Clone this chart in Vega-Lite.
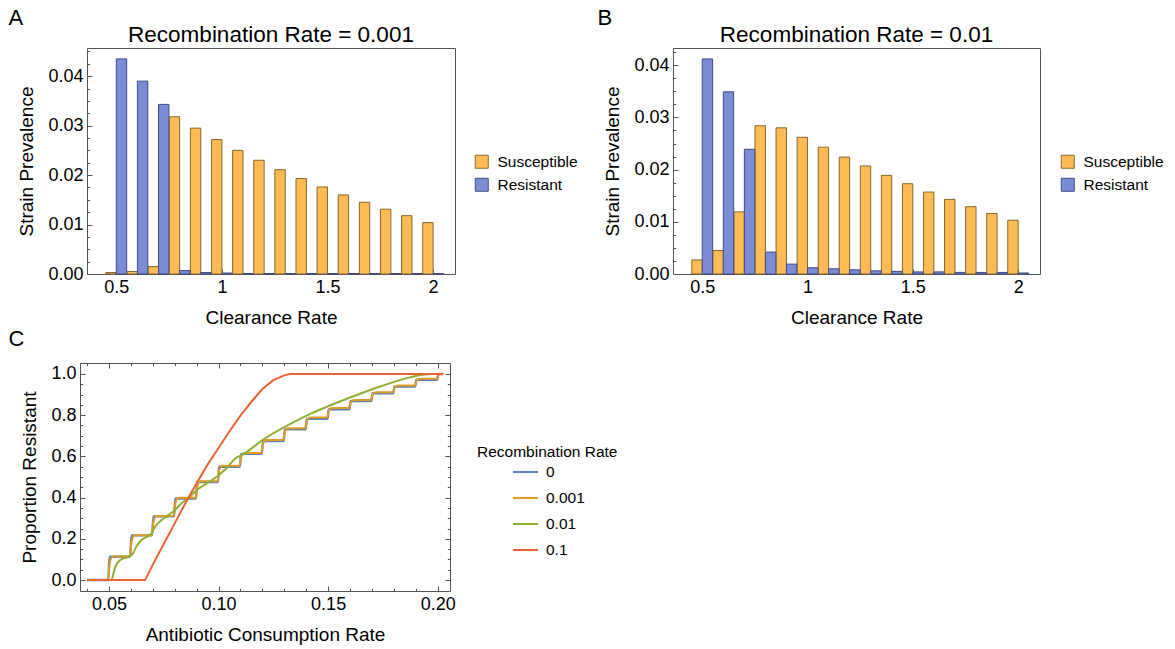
{
  "$schema": "https://vega.github.io/schema/vega-lite/v6.json",
  "padding": {"left": 5, "top": 7, "right": 2, "bottom": 0},
  "background": "white",
  "config": {
    "font": "Liberation Sans",
    "view": {"stroke": "#555555", "strokeWidth": 1},
    "axis": {"domain": false, "grid": false, "labelFontSize": 18, "labelColor": "black", "titleFontSize": 19, "titleFontWeight": "normal", "titleColor": "black", "tickColor": "#555555", "tickWidth": 1, "labelPadding": 9},
    "axisX": {"titlePadding": 12.5},
    "axisY": {"titlePadding": 11},
    "title": {"fontWeight": "normal", "color": "black"},
    "legend": {"labelFontSize": 15.5, "labelColor": "black", "titleFontSize": 15.5, "titleFontWeight": "normal", "titleColor": "black"}
  },
  "resolve": {"scale": {"color": "independent", "stroke": "independent"}, "legend": {"color": "independent", "stroke": "independent"}},
  "datasets": {
    "barsA": [
      {"rate": 0.5, "strain": "Susceptible", "prev": 0.0003},
      {"rate": 0.6, "strain": "Susceptible", "prev": 0.0005},
      {"rate": 0.7, "strain": "Susceptible", "prev": 0.0015},
      {"rate": 0.8, "strain": "Susceptible", "prev": 0.0318},
      {"rate": 0.9, "strain": "Susceptible", "prev": 0.0295},
      {"rate": 1.0, "strain": "Susceptible", "prev": 0.0272},
      {"rate": 1.1, "strain": "Susceptible", "prev": 0.0250},
      {"rate": 1.2, "strain": "Susceptible", "prev": 0.0230},
      {"rate": 1.3, "strain": "Susceptible", "prev": 0.0211},
      {"rate": 1.4, "strain": "Susceptible", "prev": 0.0193},
      {"rate": 1.5, "strain": "Susceptible", "prev": 0.0176},
      {"rate": 1.6, "strain": "Susceptible", "prev": 0.0160},
      {"rate": 1.7, "strain": "Susceptible", "prev": 0.0145},
      {"rate": 1.8, "strain": "Susceptible", "prev": 0.0131},
      {"rate": 1.9, "strain": "Susceptible", "prev": 0.0118},
      {"rate": 2.0, "strain": "Susceptible", "prev": 0.0104},
      {"rate": 0.5, "strain": "Resistant", "prev": 0.0435},
      {"rate": 0.6, "strain": "Resistant", "prev": 0.0390},
      {"rate": 0.7, "strain": "Resistant", "prev": 0.0343},
      {"rate": 0.8, "strain": "Resistant", "prev": 0.0007},
      {"rate": 0.9, "strain": "Resistant", "prev": 0.0003},
      {"rate": 1.0, "strain": "Resistant", "prev": 0.0002},
      {"rate": 1.1, "strain": "Resistant", "prev": 0.0001},
      {"rate": 1.2, "strain": "Resistant", "prev": 0.0001},
      {"rate": 1.3, "strain": "Resistant", "prev": 0.0001},
      {"rate": 1.4, "strain": "Resistant", "prev": 0.0001},
      {"rate": 1.5, "strain": "Resistant", "prev": 0.0001},
      {"rate": 1.6, "strain": "Resistant", "prev": 0.0001},
      {"rate": 1.7, "strain": "Resistant", "prev": 0.0001},
      {"rate": 1.8, "strain": "Resistant", "prev": 0.0001},
      {"rate": 1.9, "strain": "Resistant", "prev": 0.0001},
      {"rate": 2.0, "strain": "Resistant", "prev": 0.0001}
    ],
    "barsB": [
      {"rate": 0.5, "strain": "Susceptible", "prev": 0.0027},
      {"rate": 0.6, "strain": "Susceptible", "prev": 0.0045},
      {"rate": 0.7, "strain": "Susceptible", "prev": 0.0119},
      {"rate": 0.8, "strain": "Susceptible", "prev": 0.0284},
      {"rate": 0.9, "strain": "Susceptible", "prev": 0.0280},
      {"rate": 1.0, "strain": "Susceptible", "prev": 0.0262},
      {"rate": 1.1, "strain": "Susceptible", "prev": 0.0243},
      {"rate": 1.2, "strain": "Susceptible", "prev": 0.0224},
      {"rate": 1.3, "strain": "Susceptible", "prev": 0.0207},
      {"rate": 1.4, "strain": "Susceptible", "prev": 0.0189},
      {"rate": 1.5, "strain": "Susceptible", "prev": 0.0173},
      {"rate": 1.6, "strain": "Susceptible", "prev": 0.0157},
      {"rate": 1.7, "strain": "Susceptible", "prev": 0.0143},
      {"rate": 1.8, "strain": "Susceptible", "prev": 0.0129},
      {"rate": 1.9, "strain": "Susceptible", "prev": 0.0116},
      {"rate": 2.0, "strain": "Susceptible", "prev": 0.0103},
      {"rate": 0.5, "strain": "Resistant", "prev": 0.0412},
      {"rate": 0.6, "strain": "Resistant", "prev": 0.0349},
      {"rate": 0.7, "strain": "Resistant", "prev": 0.0239},
      {"rate": 0.8, "strain": "Resistant", "prev": 0.0042},
      {"rate": 0.9, "strain": "Resistant", "prev": 0.0019},
      {"rate": 1.0, "strain": "Resistant", "prev": 0.0012},
      {"rate": 1.1, "strain": "Resistant", "prev": 0.0010},
      {"rate": 1.2, "strain": "Resistant", "prev": 0.0008},
      {"rate": 1.3, "strain": "Resistant", "prev": 0.0006},
      {"rate": 1.4, "strain": "Resistant", "prev": 0.0005},
      {"rate": 1.5, "strain": "Resistant", "prev": 0.0004},
      {"rate": 1.6, "strain": "Resistant", "prev": 0.0004},
      {"rate": 1.7, "strain": "Resistant", "prev": 0.0003},
      {"rate": 1.8, "strain": "Resistant", "prev": 0.0003},
      {"rate": 1.9, "strain": "Resistant", "prev": 0.0003},
      {"rate": 2.0, "strain": "Resistant", "prev": 0.0002}
    ],
    "lines": [
      {"r": "0", "x": 0.04, "y": 0},
      {"r": "0", "x": 0.0497, "y": 0}, {"r": "0", "x": 0.0503, "y": 0.113},
      {"r": "0", "x": 0.0597, "y": 0.113}, {"r": "0", "x": 0.0603, "y": 0.217},
      {"r": "0", "x": 0.0697, "y": 0.217}, {"r": "0", "x": 0.0703, "y": 0.309},
      {"r": "0", "x": 0.0797, "y": 0.309}, {"r": "0", "x": 0.0803, "y": 0.396},
      {"r": "0", "x": 0.0897, "y": 0.396}, {"r": "0", "x": 0.0903, "y": 0.476},
      {"r": "0", "x": 0.0997, "y": 0.476}, {"r": "0", "x": 0.1003, "y": 0.550},
      {"r": "0", "x": 0.1097, "y": 0.550}, {"r": "0", "x": 0.1103, "y": 0.612},
      {"r": "0", "x": 0.1197, "y": 0.612}, {"r": "0", "x": 0.1203, "y": 0.674},
      {"r": "0", "x": 0.1297, "y": 0.674}, {"r": "0", "x": 0.1303, "y": 0.731},
      {"r": "0", "x": 0.1397, "y": 0.731}, {"r": "0", "x": 0.1403, "y": 0.782},
      {"r": "0", "x": 0.1497, "y": 0.782}, {"r": "0", "x": 0.1503, "y": 0.829},
      {"r": "0", "x": 0.1597, "y": 0.829}, {"r": "0", "x": 0.1603, "y": 0.869},
      {"r": "0", "x": 0.1697, "y": 0.869}, {"r": "0", "x": 0.1703, "y": 0.906},
      {"r": "0", "x": 0.1797, "y": 0.906}, {"r": "0", "x": 0.1803, "y": 0.939},
      {"r": "0", "x": 0.1897, "y": 0.939}, {"r": "0", "x": 0.1903, "y": 0.972},
      {"r": "0", "x": 0.1997, "y": 0.972}, {"r": "0", "x": 0.2003, "y": 1.0},
      {"r": "0", "x": 0.2025, "y": 1.0},
      {"r": "0.001", "x": 0.04, "y": 0},
      {"r": "0.001", "x": 0.0495, "y": 0}, {"r": "0.001", "x": 0.0503, "y": 0.080}, {"r": "0.001", "x": 0.0518, "y": 0.114},
      {"r": "0.001", "x": 0.0595, "y": 0.114}, {"r": "0.001", "x": 0.0603, "y": 0.187}, {"r": "0.001", "x": 0.0618, "y": 0.218},
      {"r": "0.001", "x": 0.0695, "y": 0.218}, {"r": "0.001", "x": 0.0703, "y": 0.283}, {"r": "0.001", "x": 0.0718, "y": 0.311},
      {"r": "0.001", "x": 0.0795, "y": 0.311}, {"r": "0.001", "x": 0.0803, "y": 0.373}, {"r": "0.001", "x": 0.0818, "y": 0.399},
      {"r": "0.001", "x": 0.0895, "y": 0.399}, {"r": "0.001", "x": 0.0903, "y": 0.455}, {"r": "0.001", "x": 0.0918, "y": 0.479},
      {"r": "0.001", "x": 0.0995, "y": 0.479}, {"r": "0.001", "x": 0.1003, "y": 0.532}, {"r": "0.001", "x": 0.1018, "y": 0.554},
      {"r": "0.001", "x": 0.1095, "y": 0.554}, {"r": "0.001", "x": 0.1103, "y": 0.598}, {"r": "0.001", "x": 0.1118, "y": 0.617},
      {"r": "0.001", "x": 0.1195, "y": 0.617}, {"r": "0.001", "x": 0.1203, "y": 0.661}, {"r": "0.001", "x": 0.1218, "y": 0.680},
      {"r": "0.001", "x": 0.1295, "y": 0.680}, {"r": "0.001", "x": 0.1303, "y": 0.720}, {"r": "0.001", "x": 0.1318, "y": 0.737},
      {"r": "0.001", "x": 0.1395, "y": 0.737}, {"r": "0.001", "x": 0.1403, "y": 0.773}, {"r": "0.001", "x": 0.1418, "y": 0.789},
      {"r": "0.001", "x": 0.1495, "y": 0.789}, {"r": "0.001", "x": 0.1503, "y": 0.821}, {"r": "0.001", "x": 0.1518, "y": 0.835},
      {"r": "0.001", "x": 0.1595, "y": 0.835}, {"r": "0.001", "x": 0.1603, "y": 0.862}, {"r": "0.001", "x": 0.1618, "y": 0.874},
      {"r": "0.001", "x": 0.1695, "y": 0.874}, {"r": "0.001", "x": 0.1703, "y": 0.900}, {"r": "0.001", "x": 0.1718, "y": 0.911},
      {"r": "0.001", "x": 0.1795, "y": 0.911}, {"r": "0.001", "x": 0.1803, "y": 0.934}, {"r": "0.001", "x": 0.1818, "y": 0.944},
      {"r": "0.001", "x": 0.1895, "y": 0.944}, {"r": "0.001", "x": 0.1903, "y": 0.967}, {"r": "0.001", "x": 0.1918, "y": 0.977},
      {"r": "0.001", "x": 0.1995, "y": 0.977}, {"r": "0.001", "x": 0.2003, "y": 0.993}, {"r": "0.001", "x": 0.2018, "y": 1.0},
      {"r": "0.001", "x": 0.2025, "y": 1.0},
      {"r": "0.01", "x": 0.04, "y": 0},
      {"r": "0.01", "x": 0.0512, "y": 0},
      {"r": "0.01", "x": 0.0520, "y": 0.030},
      {"r": "0.01", "x": 0.0526, "y": 0.055},
      {"r": "0.01", "x": 0.0541, "y": 0.087},
      {"r": "0.01", "x": 0.0564, "y": 0.104},
      {"r": "0.01", "x": 0.0587, "y": 0.112},
      {"r": "0.01", "x": 0.0609, "y": 0.128},
      {"r": "0.01", "x": 0.0624, "y": 0.160},
      {"r": "0.01", "x": 0.0647, "y": 0.192},
      {"r": "0.01", "x": 0.0670, "y": 0.208},
      {"r": "0.01", "x": 0.0693, "y": 0.225},
      {"r": "0.01", "x": 0.0715, "y": 0.265},
      {"r": "0.01", "x": 0.0738, "y": 0.289},
      {"r": "0.01", "x": 0.0769, "y": 0.314},
      {"r": "0.01", "x": 0.0799, "y": 0.338},
      {"r": "0.01", "x": 0.0829, "y": 0.370},
      {"r": "0.01", "x": 0.0867, "y": 0.402},
      {"r": "0.01", "x": 0.0898, "y": 0.435},
      {"r": "0.01", "x": 0.0943, "y": 0.467},
      {"r": "0.01", "x": 0.0989, "y": 0.499},
      {"r": "0.01", "x": 0.1034, "y": 0.540},
      {"r": "0.01", "x": 0.1080, "y": 0.593},
      {"r": "0.01", "x": 0.1102, "y": 0.604},
      {"r": "0.01", "x": 0.1209, "y": 0.685},
      {"r": "0.01", "x": 0.1315, "y": 0.750},
      {"r": "0.01", "x": 0.1421, "y": 0.807},
      {"r": "0.01", "x": 0.1527, "y": 0.855},
      {"r": "0.01", "x": 0.1634, "y": 0.899},
      {"r": "0.01", "x": 0.1740, "y": 0.940},
      {"r": "0.01", "x": 0.1846, "y": 0.976},
      {"r": "0.01", "x": 0.1922, "y": 0.995},
      {"r": "0.01", "x": 0.1983, "y": 1.0},
      {"r": "0.01", "x": 0.2025, "y": 1.0},
      {"r": "0.1", "x": 0.04, "y": 0},
      {"r": "0.1", "x": 0.0665, "y": 0},
      {"r": "0.1", "x": 0.070, "y": 0.075},
      {"r": "0.1", "x": 0.075, "y": 0.175},
      {"r": "0.1", "x": 0.080, "y": 0.275},
      {"r": "0.1", "x": 0.085, "y": 0.375},
      {"r": "0.1", "x": 0.090, "y": 0.470},
      {"r": "0.1", "x": 0.095, "y": 0.560},
      {"r": "0.1", "x": 0.100, "y": 0.641},
      {"r": "0.1", "x": 0.105, "y": 0.722},
      {"r": "0.1", "x": 0.110, "y": 0.798},
      {"r": "0.1", "x": 0.115, "y": 0.865},
      {"r": "0.1", "x": 0.120, "y": 0.927},
      {"r": "0.1", "x": 0.125, "y": 0.970},
      {"r": "0.1", "x": 0.130, "y": 0.993},
      {"r": "0.1", "x": 0.1325, "y": 1.0},
      {"r": "0.1", "x": 0.2025, "y": 1.0}
    ]
  },
  "spacing": 0,
  "vconcat": [
    {
      "spacing": 0,
      "resolve": {"scale": {"color": "independent", "stroke": "independent"}, "legend": {"color": "independent", "stroke": "independent"}},
      "hconcat": [
        {"width": 1, "height": 1, "view": {"stroke": "transparent"}, "data": {"values": []}, "mark": "point"},
        {
          "resolve": {"scale": {"color": "independent", "stroke": "independent"}, "legend": {"color": "independent", "stroke": "independent"}},
          "hconcat": [
            {
              "title": {"text": "A", "anchor": "start", "frame": "bounds", "fontSize": 22, "offset": -6.7, "dx": -9},
              "vconcat": [
                {
                  "width": 368, "height": 226,
                  "title": {"text": "Recombination Rate = 0.001", "fontSize": 22.5, "offset": 1.6},
                  "data": {"name": "barsA"},
                  "encoding": {
                    "x": {"field": "rate", "type": "quantitative", "scale": {"domain": [0.385, 2.08], "nice": false, "zero": false},
                          "axis": {"values": [0.5, 1, 1.5, 2], "format": "~g", "title": "Clearance Rate", "tickSize": -5}},
                    "y": {"field": "prev", "type": "quantitative", "scale": {"domain": [0, 0.0457], "nice": false},
                          "axis": {"values": [0, 0.0025, 0.005, 0.0075, 0.01, 0.0125, 0.015, 0.0175, 0.02, 0.0225, 0.025, 0.0275, 0.03, 0.0325, 0.035, 0.0375, 0.04, 0.0425, 0.045],
                                   "labelExpr": "round(datum.value*10000) % 100 == 0 ? format(datum.value, '.2f') : ''",
                                   "tickSize": {"condition": {"test": "round(datum.value*10000) % 100 == 0", "value": -5}, "value": -2.7},
                                   "title": "Strain Prevalence"}},
                    "color": {"field": "strain", "type": "nominal", "scale": {"domain": ["Susceptible", "Resistant"], "range": ["#FCBB55", "#7B8CD4"]},
                              "legend": {"title": null, "orient": "none", "legendX": 387, "legendY": 106, "symbolType": "square", "symbolSize": 169, "symbolStrokeWidth": 1, "labelOffset": 8, "rowPadding": 5}},
                    "stroke": {"field": "strain", "type": "nominal", "scale": {"domain": ["Susceptible", "Resistant"], "range": ["#86692F", "#414B85"]},
                              "legend": {"title": null, "orient": "none", "legendX": 387, "legendY": 106, "symbolType": "square", "symbolSize": 169, "symbolStrokeWidth": 1, "labelOffset": 8, "rowPadding": 5}}
                  },
                  "layer": [
                    {"transform": [{"filter": "datum.strain === 'Susceptible'"}], "mark": {"type": "bar", "width": 10.4, "xOffset": -5.2, "strokeWidth": 1}},
                    {"transform": [{"filter": "datum.strain === 'Resistant'"}], "mark": {"type": "bar", "width": 10.4, "xOffset": 5.2, "strokeWidth": 1}}
                  ]
                }
              ]
            },
            {
              "title": {"text": "B", "anchor": "start", "frame": "bounds", "fontSize": 22, "offset": -6.7, "dx": -6},
              "vconcat": [
                {
                  "width": 367, "height": 226,
                  "title": {"text": "Recombination Rate = 0.01", "fontSize": 22.5, "offset": 1.6},
                  "data": {"name": "barsB"},
                  "encoding": {
                    "x": {"field": "rate", "type": "quantitative", "scale": {"domain": [0.385, 2.08], "nice": false, "zero": false},
                          "axis": {"values": [0.5, 1, 1.5, 2], "format": "~g", "title": "Clearance Rate", "tickSize": -5}},
                    "y": {"field": "prev", "type": "quantitative", "scale": {"domain": [0, 0.0433], "nice": false},
                          "axis": {"values": [0, 0.0025, 0.005, 0.0075, 0.01, 0.0125, 0.015, 0.0175, 0.02, 0.0225, 0.025, 0.0275, 0.03, 0.0325, 0.035, 0.0375, 0.04, 0.0425],
                                   "labelExpr": "round(datum.value*10000) % 100 == 0 ? format(datum.value, '.2f') : ''",
                                   "tickSize": {"condition": {"test": "round(datum.value*10000) % 100 == 0", "value": -5}, "value": -2.7},
                                   "title": "Strain Prevalence"}},
                    "color": {"field": "strain", "type": "nominal", "scale": {"domain": ["Susceptible", "Resistant"], "range": ["#FCBB55", "#7B8CD4"]},
                              "legend": {"title": null, "orient": "none", "legendX": 387, "legendY": 106, "symbolType": "square", "symbolSize": 169, "symbolStrokeWidth": 1, "labelOffset": 8, "rowPadding": 5}},
                    "stroke": {"field": "strain", "type": "nominal", "scale": {"domain": ["Susceptible", "Resistant"], "range": ["#86692F", "#414B85"]},
                              "legend": {"title": null, "orient": "none", "legendX": 387, "legendY": 106, "symbolType": "square", "symbolSize": 169, "symbolStrokeWidth": 1, "labelOffset": 8, "rowPadding": 5}}
                  },
                  "layer": [
                    {"transform": [{"filter": "datum.strain === 'Susceptible'"}], "mark": {"type": "bar", "width": 10.4, "xOffset": -5.2, "strokeWidth": 1}},
                    {"transform": [{"filter": "datum.strain === 'Resistant'"}], "mark": {"type": "bar", "width": 10.4, "xOffset": 5.2, "strokeWidth": 1}}
                  ]
                }
              ]
            }
          ],
          "spacing": 19
        }
      ]
    },
    {
      "spacing": 0,
      "resolve": {"scale": {"color": "independent", "stroke": "independent"}, "legend": {"color": "independent", "stroke": "independent"}},
      "hconcat": [
        {"width": 1, "height": 1, "view": {"stroke": "transparent"}, "data": {"values": []}, "mark": "point"},
        {
          "title": {"text": "C", "anchor": "start", "frame": "bounds", "fontSize": 22, "offset": 11, "dx": -12},
          "resolve": {"scale": {"color": "independent"}, "legend": {"color": "independent"}},
          "vconcat": [
            {
              "width": 370, "height": 228,
              "data": {"name": "lines"},
              "layer": [
                {
                  "transform": [{"filter": "datum.r === '0'"}],
                  "mark": {"type": "line", "interpolate": "monotone", "strokeWidth": 2.4},
                  "encoding": {
                    "x": {"field": "x", "type": "quantitative", "scale": {"domain": [0.0368, 0.2056], "nice": false, "zero": false},
                          "axis": {"orient": "bottom", "values": [0.04, 0.05, 0.06, 0.07, 0.08, 0.09, 0.10, 0.11, 0.12, 0.13, 0.14, 0.15, 0.16, 0.17, 0.18, 0.19, 0.20],
                                   "labelExpr": "round(datum.value*100) % 5 == 0 ? format(datum.value, '.2f') : ''",
                                   "tickSize": {"condition": {"test": "round(datum.value*100) % 5 == 0", "value": -5}, "value": -2.7},
                                   "title": "Antibiotic Consumption Rate"}},
                    "y": {"field": "y", "type": "quantitative", "scale": {"domain": [-0.053, 1.053], "nice": false, "zero": false},
                          "axis": {"orient": "left", "values": [0, 0.05, 0.1, 0.15, 0.2, 0.25, 0.3, 0.35, 0.4, 0.45, 0.5, 0.55, 0.6, 0.65, 0.7, 0.75, 0.8, 0.85, 0.9, 0.95, 1.0],
                                   "labelExpr": "round(datum.value*100) % 20 == 0 ? format(datum.value, '.1f') : ''",
                                   "tickSize": {"condition": {"test": "round(datum.value*100) % 20 == 0", "value": -5}, "value": -2.7},
                                   "title": "Proportion Resistant"}},
                    "color": {"field": "r", "type": "nominal", "scale": {"domain": ["0", "0.001", "0.01", "0.1"], "range": ["#5E81B5", "#E19C24", "#8FB032", "#EB6235"]},
                              "legend": {"title": "Recombination Rate", "orient": "none", "legendX": 397, "legendY": 82, "symbolType": "stroke", "symbolSize": 625, "symbolStrokeWidth": 2, "rowPadding": 4, "symbolOffset": 35, "labelOffset": 7, "titlePadding": -2}}
                  }
                },
                {
                  "transform": [{"filter": "datum.r === '0.001'"}],
                  "mark": {"type": "line", "interpolate": "monotone", "strokeWidth": 2},
                  "encoding": {
                    "x": {"field": "x", "type": "quantitative", "axis": null},
                    "y": {"field": "y", "type": "quantitative", "axis": null},
                    "color": {"field": "r", "type": "nominal"}
                  }
                },
                {
                  "transform": [{"filter": "datum.r === '0.01'"}],
                  "mark": {"type": "line", "interpolate": "monotone", "strokeWidth": 2},
                  "encoding": {
                    "x": {"field": "x", "type": "quantitative", "axis": null},
                    "y": {"field": "y", "type": "quantitative", "axis": null},
                    "color": {"field": "r", "type": "nominal"}
                  }
                },
                {
                  "transform": [{"filter": "datum.r === '0.1'"}],
                  "mark": {"type": "line", "interpolate": "linear", "strokeWidth": 2},
                  "encoding": {
                    "x": {"field": "x", "type": "quantitative",
                          "axis": {"orient": "top", "values": [0.04, 0.05, 0.06, 0.07, 0.08, 0.09, 0.10, 0.11, 0.12, 0.13, 0.14, 0.15, 0.16, 0.17, 0.18, 0.19, 0.20], "labels": false, "title": null,
                                   "tickSize": {"condition": {"test": "round(datum.value*100) % 5 == 0", "value": -5}, "value": -2.7}}},
                    "y": {"field": "y", "type": "quantitative",
                          "axis": {"orient": "right", "values": [0, 0.05, 0.1, 0.15, 0.2, 0.25, 0.3, 0.35, 0.4, 0.45, 0.5, 0.55, 0.6, 0.65, 0.7, 0.75, 0.8, 0.85, 0.9, 0.95, 1.0], "labels": false, "title": null,
                                   "tickSize": {"condition": {"test": "round(datum.value*100) % 20 == 0", "value": -5}, "value": -2.7}}},
                    "color": {"field": "r", "type": "nominal"}
                  }
                }
              ],
              "resolve": {"axis": {"x": "independent", "y": "independent"}}
            }
          ]
        }
      ]
    }
  ]
}
